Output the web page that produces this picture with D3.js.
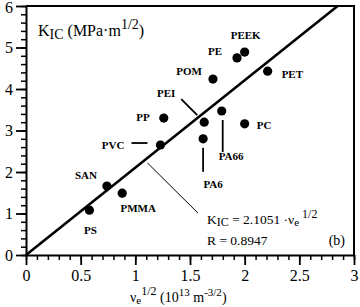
<!DOCTYPE html>
<html lang="en">
<head>
    <meta charset="UTF-8">
    <title>KIC vs ve^1/2</title>
    <script src="https://d3js.org/d3.v7.min.js"></script>
    <style>
        body { margin: 0; padding: 0; background: #fff; }
        svg { display: block; font-family: "Liberation Serif", "Times New Roman", serif; }
        .axis path, .axis line { stroke: #000; }
        .axis text { font-size: 16px; fill: #000; font-family: "Liberation Serif", serif; }
        .mat { font-size: 11px; font-weight: bold; fill: #000; }
    </style>
</head>
<body>
    <svg id="chart" width="360" height="307"></svg>

    <script>
        // polymers and their values
        const materials = ["PS", "SAN", "PMMA", "PVC", "PP", "PEI", "PA6", "PA66", "POM", "PE", "PEEK", "PET", "PC"];
        const nuHalf = [0.58, 0.74, 0.88, 1.23, 1.26, 1.63, 1.62, 1.79, 1.71, 1.93, 2.0, 2.21, 2.0];
        const kic = [1.08, 1.66, 1.49, 2.65, 3.30, 3.20, 2.80, 3.47, 4.24, 4.75, 4.89, 4.43, 3.16];

        const slope = 2.1051;
        const xTicks = [0, 0.5, 1, 1.5, 2, 2.5, 3];
        const yTicks = [0, 1, 2, 3, 4, 5, 6];

        // label placement (pixel offsets from the dot)
        const labelPos = {
            PS:   { dx: 1,   dy: 24,  anchor: "middle" },
            SAN:  { dx: -21, dy: -7,  anchor: "middle" },
            PMMA: { dx: 16,  dy: 19,  anchor: "middle" },
            PVC:  { dx: -36, dy: 4,   anchor: "end" },
            PP:   { dx: -14, dy: 3,   anchor: "end" },
            PEI:  { dx: -38, dy: -25, anchor: "middle" },
            PA6:  { dx: 10,  dy: 49,  anchor: "middle" },
            PA66: { dx: -3,  dy: 49,  anchor: "start" },
            POM:  { dx: -11, dy: -4,  anchor: "end" },
            PE:   { dx: -22, dy: -3,  anchor: "middle" },
            PEEK: { dx: 1,   dy: -13, anchor: "middle" },
            PET:  { dx: 14,  dy: 7,   anchor: "start" },
            PC:   { dx: 12,  dy: 5,   anchor: "start" }
        };
        // short leader lines [x1, y1, x2, y2] relative to the dot
        const leaders = {
            PVC: [-29, -2, -13, -2],
            PEI: [-23, -23, -7, -7],
            PA6: [0, 9, 0, 33],
            PA66: [1, 9, 1, 41]
        };

        const margin = { top: 6, right: 6, bottom: 52, left: 26 };
        const width = 360, height = 307;
        const svg = d3.select("#chart");

        const x = d3.scaleLinear().domain([0, 3]).range([margin.left, width - margin.right]);
        const y = d3.scaleLinear().domain([0, 6]).range([height - margin.bottom, margin.top]);

        // minor ticks
        svg.append("g")
            .attr("class", "axis")
            .attr("transform", `translate(0,${y(0)})`)
            .call(d3.axisBottom(x).tickValues(d3.range(0, 3.001, 0.1)).tickSize(5).tickSizeOuter(0).tickFormat(""))
            .call(g => g.selectAll("line").attr("stroke-width", 1.5))
            .call(g => g.select(".domain").remove());
        svg.append("g")
            .attr("class", "axis")
            .attr("transform", `translate(${x(0)},0)`)
            .call(d3.axisLeft(y).tickValues(d3.range(0, 6.001, 0.2)).tickSize(5).tickSizeOuter(0).tickFormat(""))
            .call(g => g.selectAll("line").attr("stroke-width", 1.5))
            .call(g => g.select(".domain").remove());

        // major ticks
        svg.append("g")
            .attr("class", "axis")
            .attr("transform", `translate(0,${y(0)})`)
            .call(d3.axisBottom(x).tickValues(xTicks).tickSize(10).tickSizeOuter(0).tickPadding(5).tickFormat(d3.format("")))
            .call(g => g.selectAll("line").attr("stroke-width", 1.8))
            .call(g => g.select(".domain").attr("stroke-width", 2));
        svg.append("g")
            .attr("class", "axis")
            .attr("transform", `translate(${x(0)},0)`)
            .call(d3.axisLeft(y).tickValues(yTicks).tickSize(10).tickSizeOuter(0).tickPadding(3).tickFormat(d3.format("d")))
            .call(g => g.selectAll("line").attr("stroke-width", 1.8))
            .call(g => g.select(".domain").attr("stroke-width", 2))
            .call(g => g.selectAll("text").filter(d => d === 6).attr("dy", "0.42em"));

        // top and right frame
        svg.append("path")
            .attr("d", `M${x(0)},${y(6)}H${x(3)}V${y(0)}`)
            .attr("fill", "none")
            .attr("stroke", "#000")
            .attr("stroke-width", 2);

        // fit line, clipped at the top of the frame
        svg.append("line")
            .attr("x1", x(0)).attr("y1", y(0))
            .attr("x2", x(6 / slope)).attr("y2", y(6))
            .attr("stroke", "#000")
            .attr("stroke-width", 2.6);

        // pointer from the fit line to the equation
        svg.append("line")
            .attr("x1", x(1.11)).attr("y1", y(2.22))
            .attr("x2", x(1.573)).attr("y2", y(1.01))
            .attr("stroke", "#000")
            .attr("stroke-width", 1);

        const pts = materials.map((m, i) => ({ name: m, px: x(nuHalf[i]), py: y(kic[i]) }));

        svg.selectAll(".dot")
            .data(pts)
            .enter().append("circle")
            .attr("class", "dot")
            .attr("cx", d => d.px)
            .attr("cy", d => d.py)
            .attr("r", 4.6)
            .attr("fill", "#000");

        svg.selectAll(".leader")
            .data(pts.filter(d => leaders[d.name]))
            .enter().append("line")
            .attr("class", "leader")
            .attr("x1", d => d.px + leaders[d.name][0])
            .attr("y1", d => d.py + leaders[d.name][1])
            .attr("x2", d => d.px + leaders[d.name][2])
            .attr("y2", d => d.py + leaders[d.name][3])
            .attr("stroke", "#000")
            .attr("stroke-width", 1.8);

        svg.selectAll(".mat")
            .data(pts)
            .enter().append("text")
            .attr("class", "mat")
            .attr("x", d => d.px + labelPos[d.name].dx)
            .attr("y", d => d.py + labelPos[d.name].dy)
            .attr("text-anchor", d => labelPos[d.name].anchor)
            .text(d => d.name);

        // y title
        const title = svg.append("text")
            .attr("x", 38).attr("y", 36)
            .attr("font-size", 16)
            .attr("fill", "#000");
        title.append("tspan").text("K");
        title.append("tspan").attr("font-size", 14).attr("dy", 3).text("IC");
        title.append("tspan").attr("dy", -3).text(" (MPa·m");
        title.append("tspan").attr("font-size", 14).attr("dy", -7).text("1/2");
        title.append("tspan").attr("dy", 7).text(")");

        // x title
        const xt = svg.append("text")
            .attr("x", 130).attr("y", 302)
            .attr("font-size", 14)
            .attr("fill", "#000");
        xt.append("tspan").text("ν");
        xt.append("tspan").attr("font-size", 11).attr("dy", 2).text("e");
        xt.append("tspan").attr("font-size", 12).attr("dy", -9).text("1/2");
        xt.append("tspan").attr("dy", 7).text(" (10");
        xt.append("tspan").attr("font-size", 11).attr("dy", -6).text("13");
        xt.append("tspan").attr("dy", 6).text(" m");
        xt.append("tspan").attr("font-size", 11).attr("dy", -6).text("-3/2");
        xt.append("tspan").attr("dy", 6).text(")");

        // equation
        const eq = svg.append("text")
            .attr("x", 207).attr("y", 224)
            .attr("font-size", 13.5)
            .attr("fill", "#000");
        eq.append("tspan").text("K");
        eq.append("tspan").attr("font-size", 12).attr("dy", 2).text("IC");
        eq.append("tspan").attr("dy", -2).text(" = 2.1051 ·ν");
        eq.append("tspan").attr("font-size", 11).attr("dy", 2).text("e");
        eq.append("tspan").attr("font-size", 12).attr("dy", -8).text(" 1/2");

        svg.append("text")
            .attr("x", 207).attr("y", 245)
            .attr("font-size", 13.5)
            .attr("fill", "#000")
            .text("R = 0.8947");

        svg.append("text")
            .attr("x", 345).attr("y", 245)
            .attr("text-anchor", "end")
            .attr("font-size", 14)
            .attr("fill", "#000")
            .text("(b)");
    </script>
</body>
</html>
